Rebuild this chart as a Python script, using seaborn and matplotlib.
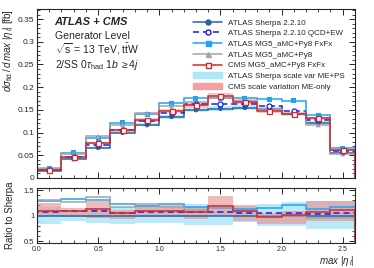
import matplotlib
matplotlib.use("Agg")
import matplotlib.pyplot as plt
import numpy as np
import pandas as pd
import seaborn as sns
from matplotlib.lines import Line2D
from matplotlib.patches import Patch
from matplotlib.ticker import MultipleLocator

# bin edges in max |eta_l|
edges = [0.0, 0.2, 0.4, 0.6, 0.8, 1.0, 1.2, 1.4, 1.6, 1.8, 2.0, 2.2, 2.4, 2.6]

# differential cross sections [fb]
sherpa = [0.016, 0.042, 0.067, 0.100, 0.117, 0.135, 0.150, 0.153, 0.155, 0.151, 0.141, 0.122, 0.056]
sherpa_qcdew = [0.0172, 0.046, 0.073, 0.105, 0.125, 0.144, 0.162, 0.163, 0.163, 0.158, 0.148, 0.127, 0.059]
mg_fxfx = [0.0205, 0.056, 0.087, 0.122, 0.140, 0.165, 0.176, 0.176, 0.176, 0.173, 0.170, 0.138, 0.065]
mg_py8 = [0.021, 0.053, 0.092, 0.117, 0.143, 0.158, 0.168, 0.177, 0.170, 0.151, 0.141, 0.117, 0.053]
cms_fxfx = [0.0176, 0.046, 0.076, 0.105, 0.128, 0.147, 0.160, 0.181, 0.168, 0.148, 0.142, 0.131, 0.062]

# scale-variation bands shown in the ratio panel
sherpa_band_lo = [0.84, 0.89, 0.855, 0.83, 0.85, 0.85, 0.82, 0.82, 0.88, 0.79, 0.80, 0.73, 0.74]
sherpa_band_hi = [1.16, 1.12, 1.15, 1.17, 1.16, 1.16, 1.22, 1.20, 1.18, 1.23, 1.26, 1.28, 1.28]
cms_band_lo = [1.00, 0.98, 0.95, 0.93, 0.97, 0.97, 0.94, 0.99, 0.90, 0.83, 0.83, 0.90, 0.90]
cms_band_hi = [1.24, 1.15, 1.29, 1.12, 1.20, 1.20, 1.17, 1.38, 1.20, 1.06, 1.09, 1.28, 1.28]

labels = ["ATLAS Sherpa 2.2.10", "ATLAS Sherpa 2.2.10 QCD+EW", "ATLAS MG5_aMC+Py8 FxFx",
          "ATLAS MG5_aMC+Py8", "CMS MG5_aMC+Py8 FxFx"]

sns.set_style("ticks")
plt.rcParams["font.family"] = ["Liberation Sans", "DejaVu Sans"]
plt.rcParams["mathtext.fontset"] = "custom"
plt.rcParams["mathtext.rm"] = "Liberation Sans"
plt.rcParams["mathtext.it"] = "Liberation Sans:italic"

edges_a = np.array(edges)
centers = 0.5 * (edges_a[1:] + edges_a[:-1])

styles = [
    dict(color="#22689a", marker="o", ls="-", hollow=False),
    dict(color="#1a1aee", marker="o", ls=(0, (4, 2.5)), hollow=True),
    dict(color="#1ea2ff", marker="s", ls="-", hollow=False),
    dict(color="#a3a3a3", marker="^", ls="-", hollow=False),
    dict(color="#d42828", marker="s", ls="-", hollow=True),
]
series = [sherpa, sherpa_qcdew, mg_fxfx, mg_py8, cms_fxfx]

df = pd.DataFrame({"x": np.tile(centers, len(series)),
                   "y": np.concatenate(series),
                   "sample": np.repeat(labels, len(centers))})
filled = [l for l, s in zip(labels, styles) if not s["hollow"]]

fig = plt.figure(figsize=(3.74, 2.68), dpi=100)
ax = fig.add_axes([0.099, 0.336, 0.850, 0.630])
rax = fig.add_axes([0.099, 0.093, 0.850, 0.205], sharex=ax)

# main panel: thin bands, step lines and markers
sh = np.array(sherpa)
cm = np.array(cms_fxfx)
ax.stairs(sh * 1.03, edges_a, baseline=sh * 0.97, fill=True, color="#aee6fa", alpha=0.8, lw=0)
ax.stairs(cm * 1.03, edges_a, baseline=cm * 0.97, fill=True, color="#f4a0a0", alpha=0.6, lw=0)
for vals, st in zip(series, styles):
    ax.stairs(vals, edges_a, color=st["color"], ls=st["ls"], lw=1.1)
sns.scatterplot(data=df[df["sample"].isin(filled)], x="x", y="y", hue="sample", style="sample", ax=ax,
                palette={l: s["color"] for l, s in zip(labels, styles)},
                markers={l: s["marker"] for l, s in zip(labels, styles)},
                s=13, legend=False, linewidth=0, zorder=5)
for vals, st in zip(series, styles):
    if st["hollow"]:
        ax.plot(centers, vals, ls="none", marker=st["marker"], ms=3.6, mfc="white",
                mec=st["color"], mew=0.9, zorder=6)

ax.set_xlim(0, 2.6)
ax.set_ylim(0, 0.372)
ax.yaxis.set_minor_locator(MultipleLocator(0.01))
ax.xaxis.set_major_locator(MultipleLocator(0.5))
ax.xaxis.set_minor_locator(MultipleLocator(0.1))
ax.set_yticks(np.arange(0, 0.36, 0.05))
ax.set_yticklabels(["0", "0.05", "0.1", "0.15", "0.2", "0.25", "0.3", "0.35"])
ax.tick_params(labelbottom=False)
ax.set_xlabel("")
ax.set_ylabel(r"$d\sigma_{\rm fid}\,/\,d\,max\ |\eta_{\,l}|$ [fb]", fontsize=7, loc="top", labelpad=2)

ax.text(0.055, 0.905, "ATLAS + CMS", transform=ax.transAxes, fontsize=8,
        fontweight="bold", style="italic")
ax.text(0.055, 0.825, "Generator Level", transform=ax.transAxes, fontsize=7.5)
ax.text(0.055, 0.74, r"$\sqrt{\rm s}$ = 13 TeV, t$\bar{\rm t}$W", transform=ax.transAxes, fontsize=7.5)
ax.text(0.055, 0.65, r"2/SS 0$\tau_{\rm had}$ 1$b$ $\geq$4$j$", transform=ax.transAxes, fontsize=7.5)

handles = [Line2D([], [], color=st["color"], ls=st["ls"], lw=1.1, marker=st["marker"], ms=3.6,
                  mfc=("white" if st["hollow"] else st["color"]), mec=st["color"])
           for st in styles]
handles += [Patch(color="#aee6fa"), Patch(color="#f4a0a0")]
leg_labels = labels + ["ATLAS Sherpa scale var ME+PS", "CMS scale variation ME-only"]
ax.legend(handles, leg_labels, loc="upper right", bbox_to_anchor=(0.985, 0.975), fontsize=5.8,
          frameon=False, handlelength=3.6, handleheight=0.7, handletextpad=0.7,
          labelspacing=0.38, borderaxespad=0.3)

# ratio panel
rax.stairs(sherpa_band_hi, edges_a, baseline=sherpa_band_lo, fill=True, color="#aee6fa", alpha=0.85, lw=0)
rax.stairs(cms_band_hi, edges_a, baseline=cms_band_lo, fill=True, color="#e98c8c", alpha=0.6, lw=0)
for vals, st in zip(series, styles):
    rax.stairs(np.array(vals) / sh, edges_a, color=st["color"], ls=st["ls"], lw=1.1)

rax.set_ylim(0.46, 1.54)
rax.set_yticks([0.5, 1, 1.5])
rax.set_yticklabels(["0.5", "1", "1.5"])
rax.yaxis.set_minor_locator(MultipleLocator(0.1))
rax.set_ylabel("Ratio to Sherpa", fontsize=7, labelpad=6)
rax.set_xlabel(r"$max\ |\eta_{\,l}|$", fontsize=7, loc="right", labelpad=1)

for a in (ax, rax):
    a.tick_params(which="both", direction="in", top=True, right=True, labelsize=6, pad=2)
    a.tick_params(which="major", length=4, width=0.7)
    a.tick_params(which="minor", length=2, width=0.6)
    for sp in a.spines.values():
        sp.set_linewidth(0.8)
rax.tick_params(axis="y", labelsize=5.5)
rax.tick_params(axis="x", labelsize=5)

fig.savefig("out.png", dpi=100)
